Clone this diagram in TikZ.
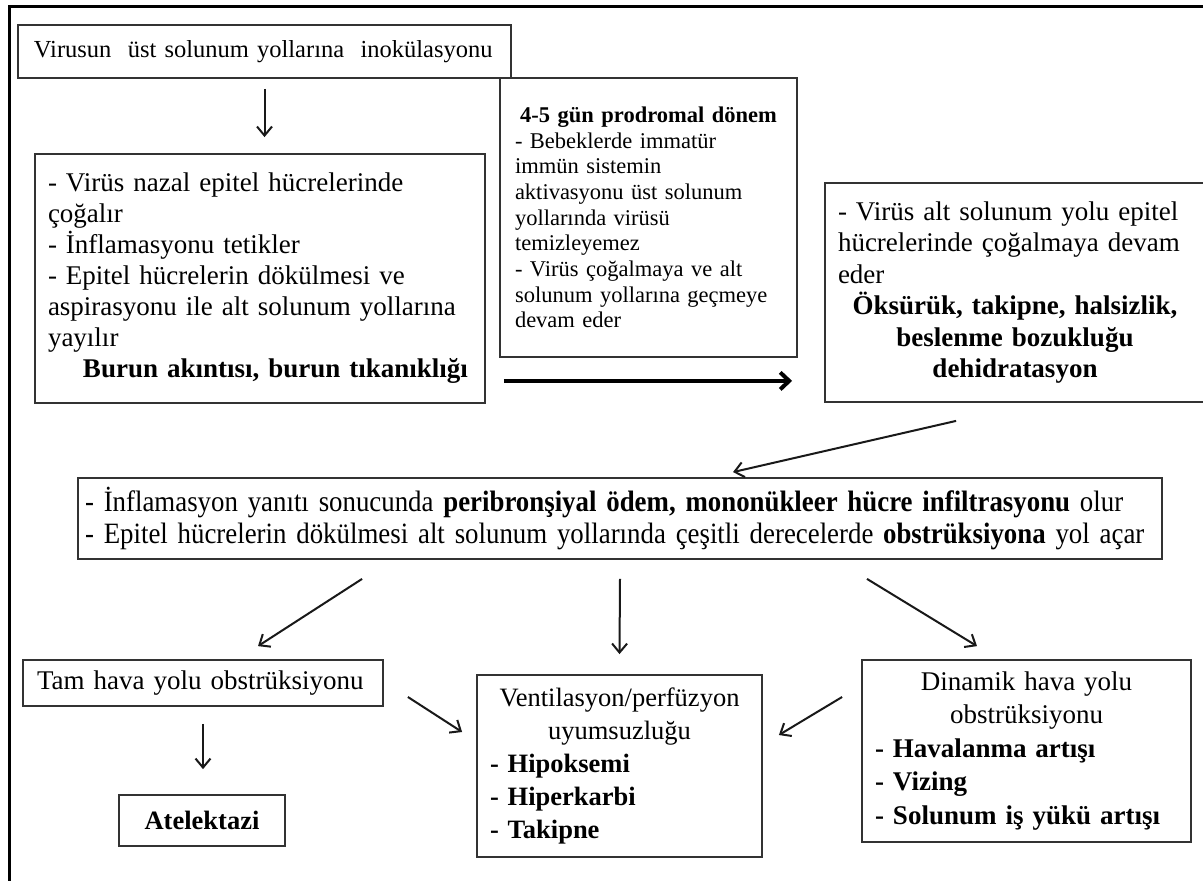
\documentclass[tikz,border=0pt]{standalone}
\usepackage{fontspec}
\setmainfont{Liberation Serif}
\newfontfamily\condfont[FakeStretch=0.91]{Liberation Serif}
\usetikzlibrary{arrows.meta}
\begin{document}
\begin{tikzpicture}[x=1pt,y=-1pt,
  box/.style={draw=black!80, line width=1.8pt, inner sep=0pt, fill=white},
  arr/.style={line width=2pt, draw=black!90, -{Straight Barb[length=9pt,width=15pt]}},
  bigarr/.style={line width=4pt, -{Straight Barb[length=9pt,width=17pt]}},
]
\useasboundingbox (0,0) rectangle (1203,881);
\fill[white] (0,0) rectangle (1203,881);
\begin{scope}
\clip (0,0) rectangle (1203,881);
\draw[line width=3pt] (9.5,900) -- (9.5,6.5) -- (1220,6.5);

\node[box, minimum width=493pt, minimum height=53pt, text width=461pt, align=left,
  font=\fontsize{24.5}{28}\selectfont] (A) at (264.5,51.5)
  {Virusun\ \ üst solunum yollarına\ \ inokülasyonu};

\node[box, minimum width=450pt, minimum height=249pt, text width=424pt, align=left,
  font=\fontsize{27}{31}\selectfont] (B) at (260,278.5)
  {- Virüs nazal epitel hücrelerinde\\
   çoğalır\\
   - İnflamasyonu tetikler\\
   - Epitel hücrelerin dökülmesi ve\\
   aspirasyonu ile alt solunum yollarına\\
   yayılır\\
   \hspace*{35pt}\textbf{Burun akıntısı, burun tıkanıklığı}};

\node[box, minimum width=297pt, minimum height=279pt, text width=267pt, align=left,
  font=\fontsize{22.5}{25.7}\selectfont] (C) at (648.5,217.5)
  {\makebox[\linewidth]{\bfseries 4-5 gün prodromal dönem}\\
   - Bebeklerde immatür\\
   immün sistemin\\
   aktivasyonu üst solunum\\
   yollarında virüsü\\
   temizleyemez\\
   - Virüs çoğalmaya ve alt\\
   solunum yollarına geçmeye\\
   devam eder};

\node[box, minimum width=380pt, minimum height=219pt, text width=354pt, align=left,
  font=\fontsize{27}{31.5}\selectfont] (D) at (1015,292.5)
  {- Virüs alt solunum yolu epitel\\
   hücrelerinde çoğalmaya devam\\
   eder\\
   \makebox[\linewidth]{\bfseries Öksürük, takipne, halsizlik,}\\
   \makebox[\linewidth]{\bfseries beslenme bozukluğu}\\
   \makebox[\linewidth]{\bfseries dehidratasyon}};

\node[box, minimum width=1084pt, minimum height=81pt, text width=1070pt, align=left,
  font=\condfont\fontsize{29.5}{32}\selectfont] (E) at (620,518.5)
  {- İnflamasyon yanıtı sonucunda \textbf{peribronşiyal ödem, mononükleer hücre infiltrasyonu} olur\\
   - Epitel hücrelerin dökülmesi alt solunum yollarında çeşitli derecelerde \textbf{obstrüksiyona} yol açar};

\node[box, minimum width=360pt, minimum height=46pt, text width=332pt, align=left,
  font=\fontsize{27}{31}\selectfont] (F) at (203,683)
  {Tam hava yolu obstrüksiyonu};

\node[box, minimum width=166pt, minimum height=51pt, align=center,
  font=\fontsize{26.5}{30}\selectfont\bfseries] (G) at (202,820.5)
  {Atelektazi};

\node[box, minimum width=285pt, minimum height=182pt, text width=259pt, align=left,
  font=\fontsize{26.5}{33}\selectfont] (H) at (619.5,766)
  {\makebox[\linewidth]{Ventilasyon/perfüzyon}\\
   \makebox[\linewidth]{uyumsuzluğu}\\
   \textbf{- Hipoksemi}\\
   \textbf{- Hiperkarbi}\\
   \textbf{- Takipne}};

\node[box, minimum width=329pt, minimum height=182pt, text width=303pt, align=left,
  font=\fontsize{27}{33.5}\selectfont] (I) at (1026.5,751)
  {\makebox[\linewidth]{Dinamik hava yolu}\\
   \makebox[\linewidth]{obstrüksiyonu}\\
   \textbf{- Havalanma artışı}\\
   \textbf{- Vizing}\\
   \textbf{- Solunum iş yükü artışı}};

% connectors
\draw[arr] ([yshift=-10pt]A.south) -- ([yshift=16pt]A.south |- B.north);
\draw[bigarr] ([xshift=18pt,yshift=23pt]B.south east) -- ([xshift=-32pt,yshift=23pt]B.south east -| D.west);
\draw[arr] ([xshift=132pt,yshift=-18pt]D.south west) -- ([xshift=113pt,yshift=5pt]E.north);
\draw[arr] ([xshift=285pt,yshift=-19pt]E.south west) -- ([xshift=55pt,yshift=13pt]F.north);
\draw[arr] ([yshift=-19pt]E.south) -- ([yshift=20pt]H.north);
\draw[arr] ([xshift=247pt,yshift=-19pt]E.south) -- ([xshift=-49.5pt,yshift=13pt]I.north);
\draw[arr] ([yshift=-17pt]F.south) -- ([yshift=25pt]F.south |- G.north);
\draw[arr] ([xshift=24pt,yshift=-14pt]F.east) -- ([xshift=-14pt,yshift=34pt]H.west);
\draw[arr] ([xshift=-19pt,yshift=54pt]I.west) -- ([xshift=16pt,yshift=31pt]H.east);
\end{scope}
\end{tikzpicture}
\end{document}
